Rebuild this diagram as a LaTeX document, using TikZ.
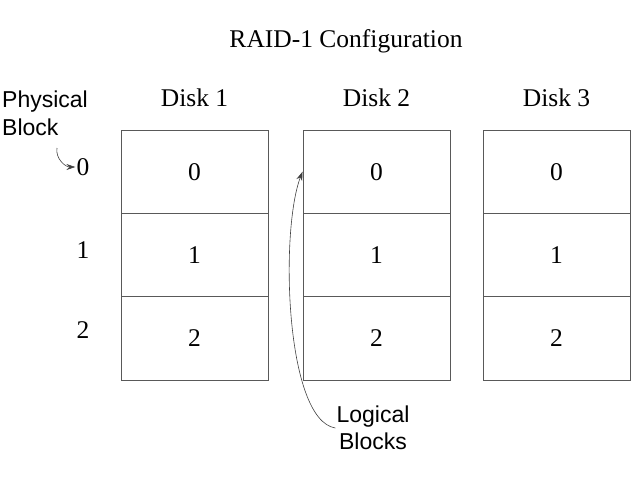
\documentclass[tikz,border=0pt]{standalone}
\usepackage{fontspec}
\setmainfont{Liberation Serif}
\newfontfamily\labelfont{Liberation Sans}
\usetikzlibrary{arrows.meta}
\tikzset{
  cell/.style={draw=black!65, line width=0.9pt, minimum width=147pt,
    minimum height=83.33pt, inner sep=0pt, font=\fontsize{25.5}{29}\selectfont},
  disklabel/.style={font=\fontsize{25.5}{29}\selectfont},
  side/.style={font=\labelfont\fontsize{23}{27.5}\selectfont, align=left, inner sep=1pt},
  pointer/.style={-{Stealth[length=9pt,width=6pt]}, black!75, line width=0.6pt}
}
\begin{document}
\begin{tikzpicture}[x=1pt, y=-1pt]
  \useasboundingbox (0,0) rectangle (640,480);

  % Titulo
  \node[disklabel] (title) at (346,41) {RAID-1 Configuration};

  % Discos con sus bloques
  \foreach \d/\x in {1/121,2/303,3/483}{
    \node[disklabel] (disk\d) at (\x+73.5,98) {Disk \d};
    \foreach \r in {0,1,2}
      \node[cell] (d\d r\r) at (\x+73.5,171.67+83.33*\r) {\r};
  }

  % Numeros de bloque fisico
  \foreach \r/\y in {0/167,1/250,2/330}
    \node[disklabel, inner sep=1pt] (lbl\r) at (83,\y) {\r};

  % Etiqueta de bloques fisicos
  \node[side, anchor=north west] (physical) at (1,90) {Physical\\Block};
  \coordinate (physstart) at (57,148);
  \draw[pointer] (physstart) to[out=-100,in=180] (lbl0.west);

  % Etiqueta de bloques logicos
  \node[side, align=center] (logical) at (373,428) {Logical\\Blocks};
  \draw[pointer] (logical.west) .. controls (285,420) and (280,230) .. (d2r0.west);
\end{tikzpicture}
\end{document}
